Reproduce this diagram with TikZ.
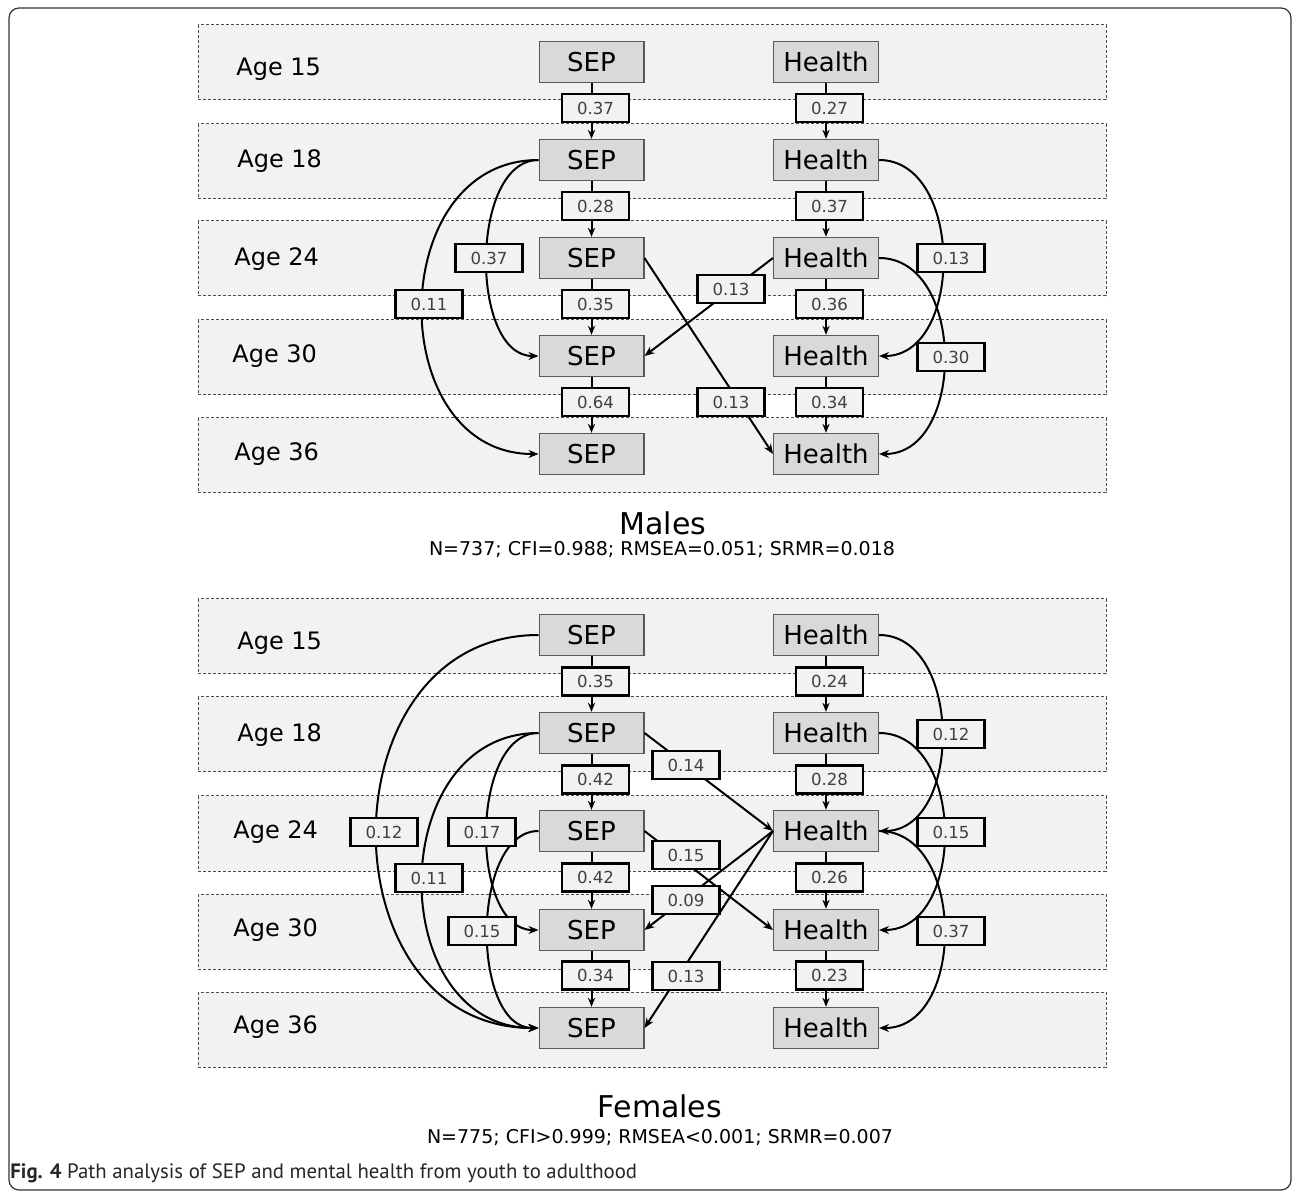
\documentclass[tikz,border=0pt]{standalone}
\usepackage{fontspec}
\setmainfont{DejaVu Sans}
\newfontfamily\capfont{PT Sans}
\usetikzlibrary{arrows.meta}
\definecolor{bandfill}{HTML}{F2F2F2}
\definecolor{boxfill}{HTML}{D9D9D9}
\definecolor{boxline}{HTML}{595959}
\definecolor{coefgray}{HTML}{404040}
\begin{document}
\begin{tikzpicture}[x=0.5pt,y=-0.5pt,
  band/.style={draw=black!70, dash pattern=on 1.5pt off 1pt, line width=0.5pt, fill=bandfill},
  var/.style={draw=boxline, line width=0.7pt, fill=boxfill, minimum width=52.3pt, minimum height=20.5pt, inner sep=0pt, font=\fontsize{13}{13}\selectfont},
  coef/.style={draw=black, line width=1.1pt, fill=bandfill, minimum width=33.5pt, minimum height=14pt, inner sep=0pt, text=coefgray, font=\fontsize{8.3}{8.3}\selectfont},
  agelbl/.style={anchor=base west, inner sep=0pt, font=\fontsize{12}{12}\selectfont},
  conn/.style={line width=1pt, -{Stealth[length=5pt,width=4pt]}},
  vconn/.style={line width=1pt, -{Stealth[length=4.5pt,width=3.6pt]}},
  ttl/.style={anchor=base, inner sep=0pt},
]
\useasboundingbox (0,0) rectangle (1292,1192);
% outer frame
\draw[black!80, line width=0.6pt, rounded corners=5pt] (9,8) rectangle (1291,1190);

% ---------- bands ----------
\foreach \t in {25,124,221,320,418,599,697,796,894,992}
  \draw[band] (198,\t) rectangle (1106,{\t+75});

% ---------- age labels ----------
\node[agelbl] (ma15) at (236,75.7) {Age 15};
\node[agelbl] (ma18) at (237,167.7) {Age 18};
\node[agelbl] (ma24) at (234,265.7) {Age 24};
\node[agelbl] (ma30) at (232,362.7) {Age 30};
\node[agelbl] (ma36) at (234,460.7) {Age 36};
\node[agelbl] (fa15) at (237,649.7) {Age 15};
\node[agelbl] (fa18) at (237,741) {Age 18};
\node[agelbl] (fa24) at (233,838.7) {Age 24};
\node[agelbl] (fa30) at (233,936.7) {Age 30};
\node[agelbl] (fa36) at (233,1033.7) {Age 36};

% ---------- variable boxes ----------
\foreach \i/\y in {1/62,2/160,3/258,4/356,5/454}{
  \node[var] (ms\i) at (591.5,\y) {SEP};
  \node[var] (mh\i) at (826,\y) {Health};
}
\foreach \i/\y in {1/635,2/733,3/831,4/930,5/1028}{
  \node[var] (fs\i) at (591.5,\y) {SEP};
  \node[var] (fh\i) at (826,\y) {Health};
}

% ---------- males connectors ----------
\foreach \a/\b in {1/2,2/3,3/4,4/5}{
  \draw[vconn] (ms\a.south) -- (ms\b.north);
  \draw[vconn] (mh\a.south) -- (mh\b.north);
}
\draw[conn] (ms2.west) .. controls +(-155,0) and +(-155,0) .. (ms5.west);
\draw[conn] (ms2.west) .. controls +(-69,0) and +(-69,0) .. (ms4.west);
\draw[conn] (mh3.west) -- (ms4.east);
\draw[conn] (ms3.east) -- (mh5.west);
\draw[conn] (mh2.east) .. controls +(85,0) and +(85,0) .. (mh4.east);
\draw[conn] (mh3.east) .. controls +(87,0) and +(87,0) .. (mh5.east);

% ---------- females connectors ----------
\foreach \a/\b in {1/2,2/3,3/4,4/5}{
  \draw[vconn] (fs\a.south) -- (fs\b.north);
  \draw[vconn] (fh\a.south) -- (fh\b.north);
}
\draw[conn] (fs1.west) .. controls +(-216,0) and +(-216,0) .. (fs5.west);
\draw[conn] (fs2.west) .. controls +(-155,0) and +(-155,0) .. (fs5.west);
\draw[conn] (fs2.west) .. controls +(-69,0) and +(-69,0) .. (fs4.west);
\draw[conn] (fs3.west) .. controls +(-68,0) and +(-68,0) .. (fs5.west);
\draw[conn] (fs2.east) -- (fh3.west);
\draw[conn] (fs3.east) -- (fh4.west);
\draw[conn] (fh3.west) -- (fs4.east);
\draw[conn] (fh3.west) -- (fs5.east);
\draw[conn] (fh1.east) .. controls +(84,0) and +(84,0) .. (fh3.east);
\draw[conn] (fh2.east) .. controls +(87,0) and +(87,0) .. (fh4.east);
\draw[conn] (fh3.east) .. controls +(87,0) and +(87,0) .. (fh5.east);

% ---------- males coefficients ----------
\node[coef] (mc1) at (595.5,108) {0.37};
\node[coef] (mc2) at (595.5,206) {0.28};
\node[coef] (mc3) at (595.5,304) {0.35};
\node[coef] (mc4) at (595.5,402) {0.64};
\node[coef] (mc5) at (829.5,108) {0.27};
\node[coef] (mc6) at (829.5,206) {0.37};
\node[coef] (mc7) at (829.5,304) {0.36};
\node[coef] (mc8) at (829.5,402) {0.34};
\node[coef] (mc9) at (429,304) {0.11};
\node[coef] (mc10) at (489,258) {0.37};
\node[coef] (mc11) at (731,289) {0.13};
\node[coef] (mc12) at (731,402) {0.13};
\node[coef] (mc13) at (951,258) {0.13};
\node[coef] (mc14) at (951,357) {0.30};

% ---------- females coefficients ----------
\node[coef] (fc1) at (595.5,681.5) {0.35};
\node[coef] (fc2) at (595.5,779.5) {0.42};
\node[coef] (fc3) at (595.5,877.5) {0.42};
\node[coef] (fc4) at (595.5,975.5) {0.34};
\node[coef] (fc5) at (829.5,681.5) {0.24};
\node[coef] (fc6) at (829.5,779.5) {0.28};
\node[coef] (fc7) at (829.5,877.5) {0.26};
\node[coef] (fc8) at (829.5,975.5) {0.23};
\node[coef] (fc9) at (384,832) {0.12};
\node[coef] (fc10) at (429,878) {0.11};
\node[coef] (fc11) at (482,832) {0.17};
\node[coef] (fc12) at (482,931) {0.15};
\node[coef] (fc13) at (686,765) {0.14};
\node[coef] (fc14) at (686,855) {0.15};
\node[coef] (fc15) at (686,900) {0.09};
\node[coef] (fc16) at (686,976) {0.13};
\node[coef] (fc17) at (951,734) {0.12};
\node[coef] (fc18) at (951,832) {0.15};
\node[coef] (fc19) at (951,931) {0.37};

% ---------- titles ----------
\node[ttl, font=\fontsize{15}{15}\selectfont] (mtitle) at (663,535) {Males};
\node[ttl, font=\fontsize{9.5}{9.5}\selectfont] (mstats) at (662,556) {N=737; CFI=0.988; RMSEA=0.051; SRMR=0.018};
\node[ttl, font=\fontsize{15}{15}\selectfont] (ftitle) at (660,1117) {Females};
\node[ttl, font=\fontsize{9.5}{9.5}\selectfont] (fstats) at (660,1143) {N=775; CFI>0.999; RMSEA<0.001; SRMR=0.007};

% ---------- caption ----------
\node[anchor=base west, inner sep=0pt, font=\capfont\fontsize{10.4}{10.4}\selectfont, text=black!85] (caption) at (10,1178) {\textbf{Fig. 4} Path analysis of SEP and mental health from youth to adulthood};
\end{tikzpicture}
\end{document}
